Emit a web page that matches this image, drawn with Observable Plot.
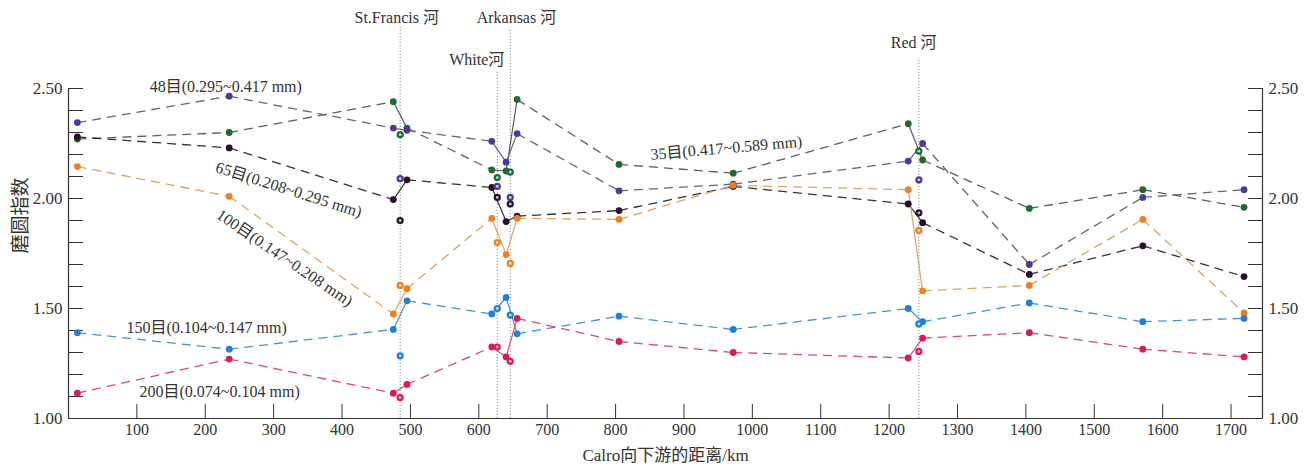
<!DOCTYPE html>
<html><head><meta charset="utf-8">
<script src="https://cdn.jsdelivr.net/npm/d3@7"></script>
<script src="https://cdn.jsdelivr.net/npm/@observablehq/plot@0.6"></script>
<style>body{margin:0;background:#fff}</style>
</head><body><div id="chart"></div>
<script>
// main-stem sampling stations (km downstream of Cairo)
const km = [13, 235, 475, 495, 619, 640, 656, 805, 972, 1228, 1249, 1405, 1571, 1719];
const seriesNames = ["35目(0.417~0.589 mm)", "48目(0.295~0.417 mm)", "65目(0.208~0.295 mm)",
                     "100目(0.147~0.208 mm)", "150目(0.104~0.147 mm)", "200目(0.074~0.104 mm)"];
const v35  = [2.27, 2.30, 2.44, 2.32, 2.13, 2.125, 2.45, 2.155, 2.115, 2.34, 2.175, 1.955, 2.04, 1.96];
const v48  = [2.345, 2.465, 2.32, 2.31, 2.26, 2.165, 2.295, 2.035, 2.065, 2.17, 2.25, 1.70, 2.005, 2.04];
const v65  = [2.28, 2.23, 1.995, 2.085, 2.05, 1.895, 1.92, 1.945, 2.055, 1.975, 1.89, 1.655, 1.785, 1.645];
const v100 = [2.145, 2.01, 1.475, 1.59, 1.91, 1.745, 1.91, 1.905, 2.06, 2.04, 1.58, 1.605, 1.905, 1.48];
const v150 = [1.39, 1.315, 1.405, 1.535, 1.475, 1.55, 1.385, 1.465, 1.405, 1.50, 1.44, 1.525, 1.44, 1.455];
const v200 = [1.115, 1.27, 1.115, 1.155, 1.325, 1.28, 1.455, 1.35, 1.30, 1.275, 1.365, 1.39, 1.315, 1.28];

// tributaries
const tribNames = ["St.Francis 河", "White河", "Arkansas 河", "Red 河"];
const tribKm = [485, 627, 646, 1243.5];
const tribTop = [2.778, 2.574, 2.765, 2.638];
const tribLabelKm = [480, 597, 655, 1236];
const tribLabelY = [2.82, 2.629, 2.82, 2.706];
const t35  = [2.29, 2.095, 2.12, 2.215];
const t48  = [2.09, 2.055, 2.005, 2.085];
const t65  = [1.90, 2.005, 1.975, 1.935];
const t100 = [1.605, 1.80, 1.705, 1.855];
const t150 = [1.285, 1.50, 1.47, 1.43];
const t200 = [1.095, 1.325, 1.26, 1.305];

// series label placement
const labelKm = [962, 230, 322, 316, 202, 221];
const labelY = [2.229, 2.506, 2.04, 1.73, 1.41, 1.121];
const labelRotate = [-5, 0, 17.5, 34, 0, 0];

const yTicksMajor = [1.0, 1.5, 2.0, 2.5];
const yTicksMinor = d3.range(10, 26).map(d => d / 10);
const xTicks = d3.range(100, 1701, 100);

const dotColors = ["#1d6b32", "#4b3b98", "#2a0f2c", "#f0801e", "#1f80d8", "#d91c58"];
const lineColors = ["#5e5e5e", "#666680", "#333333", "#e0a262", "#4a92d4", "#d84a78"];

const vals = [v35, v48, v65, v100, v150, v200];
const tvals = [t35, t48, t65, t100, t150, t200];

const points = vals.flatMap((vs, s) => km.map((k, j) => ({s, km: k, v: vs[j]})));
const segs = vals.flatMap((vs, s) => km.slice(1).map((k, j) => ({
  s, x1: km[j], y1: vs[j], x2: k, y2: vs[j + 1], solid: k - km[j] < 30
})));
const tribPts = tvals.flatMap((vs, s) => tribKm.map((k, j) => ({s, km: k, v: vs[j]})));
const tribs = tribNames.map((n, i) => ({name: n, km: tribKm[i], top: tribTop[i], lx: tribLabelKm[i], ly: tribLabelY[i]}));
const labels = seriesNames.map((n, i) => ({name: n, km: labelKm[i], y: labelY[i], r: labelRotate[i]}));

const FONT = "'Liberation Serif', 'Times New Roman', 'Noto Sans CJK SC', serif";
const noText = () => "";

const chart = Plot.plot({
  width: 1313, height: 468,
  marginLeft: 68, marginRight: 51, marginTop: 88, marginBottom: 50,
  x: {domain: [0, 1746]},
  y: {domain: [1, 2.5]},
  style: {fontFamily: FONT, fontSize: "16px", background: "#fff", color: "#333"},
  marks: [
    // tributary dotted lines
    Plot.ruleX(tribs, {x: "km", y1: 1, y2: "top", stroke: "#8a8a8a", strokeWidth: 1, strokeDasharray: "1.2,1.8"}),
    Plot.text(tribs, {x: "lx", y: "ly", text: "name", fontSize: 16, fill: "#333"}),
    // axes frame
    Plot.ruleX([0], {stroke: "#333", strokeWidth: 1.2}),
    Plot.ruleX([1746], {stroke: "#333", strokeWidth: 1.2}),
    Plot.ruleY([1], {stroke: "#333", strokeWidth: 1.2}),
    Plot.axisY({anchor: "left", ticks: yTicksMinor, tickSize: 15, dx: 15, tickFormat: noText, label: null, stroke: "#333"}),
    Plot.axisY({anchor: "right", ticks: yTicksMinor, tickSize: 15, dx: -15, tickFormat: noText, label: null, stroke: "#333"}),
    Plot.axisY({anchor: "left", ticks: yTicksMajor, tickSize: 0, tickPadding: 6, tickFormat: d3.format(".2f"), label: null, fontSize: 17}),
    Plot.axisY({anchor: "right", ticks: yTicksMajor, tickSize: 0, tickPadding: 6, tickFormat: d3.format(".2f"), label: null, fontSize: 17}),
    Plot.axisX({anchor: "bottom", ticks: xTicks, tickSize: 14, dy: -14, tickFormat: noText, label: null, stroke: "#333"}),
    Plot.axisX({anchor: "bottom", ticks: xTicks, tickSize: 0, tickPadding: 5, tickFormat: d => String(d), label: null, fontSize: 16}),
    Plot.text(["磨圆指数"], {frameAnchor: "left", dx: -48, rotate: -90, fontSize: 19, fill: "#333"}),
    Plot.text(["Calro向下游的距离/km"], {frameAnchor: "bottom", dy: 42, fontSize: 17, fill: "#333"}),
    // series
    Plot.link(segs.filter(d => !d.solid), {x1: "x1", y1: "y1", x2: "x2", y2: "y2",
      stroke: d => lineColors[d.s], strokeWidth: 1.3, strokeDasharray: "9,6"}),
    Plot.link(segs.filter(d => d.solid), {x1: "x1", y1: "y1", x2: "x2", y2: "y2",
      stroke: d => lineColors[d.s], strokeWidth: 1.2}),
    Plot.dot(points, {x: "km", y: "v", r: 3.4, fill: d => dotColors[d.s]}),
    Plot.dot(tribPts, {x: "km", y: "v", r: 3.6, fill: d => dotColors[d.s]}),
    Plot.dot(tribPts, {x: "km", y: "v", r: 1.4, fill: "#fff", fillOpacity: 0.75}),
    Plot.text(labels, {x: "km", y: "y", text: "name", rotate: "r", fontSize: 16, fill: "#333"})
  ]
});
document.getElementById("chart").appendChild(chart);
</script>
</body></html>
